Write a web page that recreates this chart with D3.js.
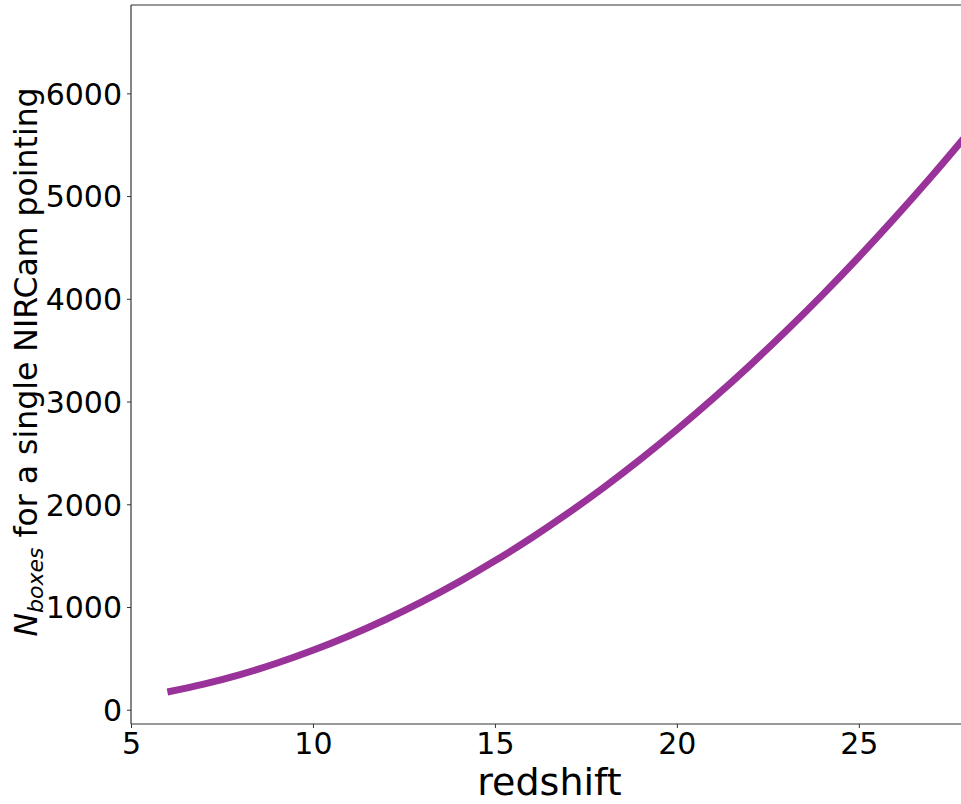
<!DOCTYPE html>
<html>
<head>
<meta charset="utf-8">
<script src="https://cdn.jsdelivr.net/npm/d3@7"></script>
<style>
  html, body { margin: 0; padding: 0; background: #fff; }
  svg { display: block; }
  text { font-family: "DejaVu Sans", sans-serif; fill: #000; }
</style>
</head>
<body>
<svg id="chart" width="961" height="804"></svg>
<script>
// Data
const redshift = [6, 7, 8, 9, 10, 11, 12, 13, 14, 15, 16, 17, 18, 19, 20, 21, 22, 23, 24, 25, 26, 27, 28];
const nBoxes   = [172, 249, 342, 452, 578, 720, 878, 1052, 1242, 1449, 1672, 1911, 2166, 2438, 2726, 3030, 3350, 3686, 4038, 4407, 4792, 5193, 5610];
const xTicks = [5, 10, 15, 20, 25];
const yTicks = [0, 1000, 2000, 3000, 4000, 5000, 6000];

(function () {
const svg = d3.select("#chart");
const mLeft = 131, mTop = 5, mBottom = 724, mRight = 968;

const x = d3.scaleLinear().domain([5, 28]).range([mLeft, mRight]);
const y = d3.scaleLinear().domain([-139, 6860]).range([mBottom, mTop]);

// clip
svg.append("defs").append("clipPath").attr("id", "clip")
  .append("rect").attr("x", mLeft).attr("y", mTop).attr("width", mRight - mLeft).attr("height", mBottom - mTop);

// line
const line = d3.line().x((d, i) => x(redshift[i])).y(d => y(d)).curve(d3.curveMonotoneX);
svg.append("path")
  .datum(nBoxes)
  .attr("clip-path", "url(#clip)")
  .attr("d", line)
  .attr("fill", "none")
  .attr("stroke", "#993399")
  .attr("stroke-width", 7)
  .attr("stroke-linecap", "butt");

// axes
const xAxis = d3.axisBottom(x).tickValues(xTicks).tickSize(4).tickPadding(6).tickFormat(d3.format("d"));
const yAxis = d3.axisLeft(y).tickValues(yTicks).tickSize(4).tickPadding(5).tickFormat(d3.format("d"));

const gx = svg.append("g").attr("transform", `translate(0,${mBottom})`).call(xAxis);
const gy = svg.append("g").attr("transform", `translate(${mLeft},0)`).call(yAxis);

[gx, gy].forEach(g => {
  g.select(".domain").remove();
  g.selectAll(".tick line").attr("stroke", "#333").attr("stroke-width", 1);
  g.selectAll(".tick text").attr("font-size", 30).attr("font-family", "DejaVu Sans").attr("fill", "#000");
});
gy.selectAll(".tick text").attr("dy", "0.36em");
gx.selectAll(".tick text").attr("dy", "0.68em");

// spines
const spine = svg.append("g").attr("stroke", "#333").attr("stroke-width", 1.2).attr("fill", "none");
spine.append("line").attr("x1", mLeft).attr("x2", mLeft).attr("y1", mTop).attr("y2", mBottom);
spine.append("line").attr("x1", mLeft).attr("x2", mRight).attr("y1", mBottom).attr("y2", mBottom);
spine.append("line").attr("x1", mLeft).attr("x2", mRight).attr("y1", mTop).attr("y2", mTop);
spine.append("line").attr("x1", mRight).attr("x2", mRight).attr("y1", mTop).attr("y2", mBottom);

// x label
svg.append("text")
  .attr("x", (mLeft + mRight) / 2).attr("y", 795)
  .attr("text-anchor", "middle")
  .attr("font-size", 38)
  .text("redshift");

// y label
const yl = svg.append("text")
  .attr("transform", `translate(37,362) rotate(-90)`)
  .attr("text-anchor", "middle")
  .attr("font-size", 31.5);
yl.append("tspan").attr("font-style", "italic").text("N");
yl.append("tspan").attr("font-style", "italic").attr("font-size", 22).attr("dy", 6).text("boxes");
yl.append("tspan").attr("dy", -6).text(" for a single NIRCam pointing");
})();
</script>
</body>
</html>
